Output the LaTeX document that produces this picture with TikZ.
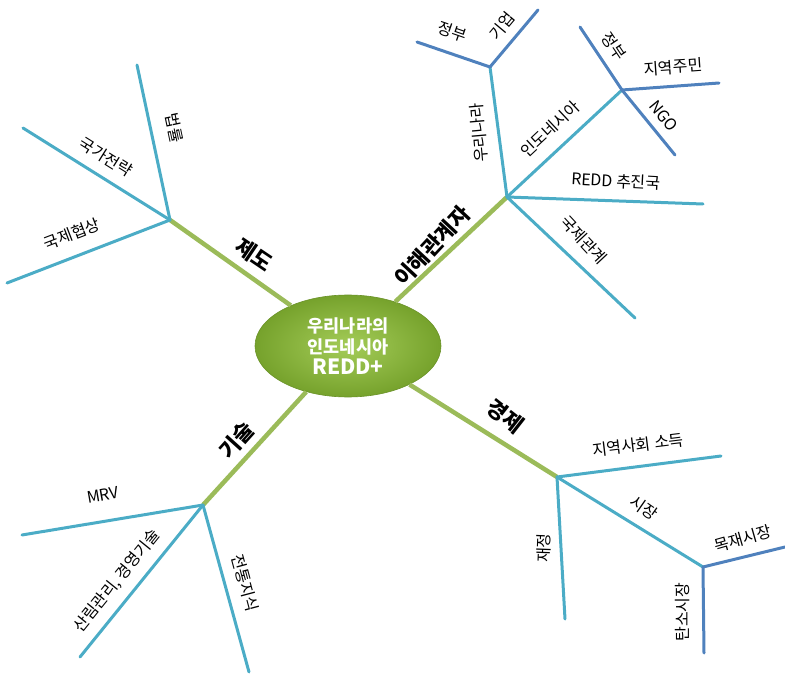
\documentclass[tikz,border=0pt]{standalone}
\usepackage{fontspec}
\setmainfont{Noto Sans CJK KR}
\usetikzlibrary{shapes.geometric}
\definecolor{grn}{HTML}{9BBB59}
\definecolor{aqua}{HTML}{4BACC6}
\definecolor{blu}{HTML}{4F81BD}
\definecolor{ballin}{HTML}{A4CC58}
\definecolor{ballout}{HTML}{76A22C}
\tikzset{
  mainline/.style={draw=grn, line width=4.5pt},
  subline/.style={draw=aqua, line width=3pt, line cap=round},
  subsubline/.style={draw=blu, line width=3pt, line cap=round},
  lbl/.style={font=\fontsize{16}{18}\selectfont, inner sep=0pt, text=black},
  mainlbl/.style={font=\fontsize{21.5}{24}\selectfont\bfseries, inner sep=0pt, text=black},
}
\begin{document}
\begin{tikzpicture}[x=1pt,y=-1pt]
\useasboundingbox (0,0) rectangle (785,679);
% hubs and ends
\coordinate (h1) at (170,220);
\coordinate (h2) at (507,197);
\coordinate (h3) at (203,505);
\coordinate (h4) at (557,477);
\coordinate (e11) at (137,65);
\coordinate (e12) at (23,128);
\coordinate (e13) at (7,283);
\coordinate (h21) at (490,67);
\coordinate (e211) at (417,42);
\coordinate (e212) at (538,10);
\coordinate (h22) at (622,90);
\coordinate (e221) at (580,27);
\coordinate (e222) at (719,83);
\coordinate (e223) at (675,155);
\coordinate (e23) at (703,204);
\coordinate (e24) at (635,318);
\coordinate (e31) at (22,535);
\coordinate (e32) at (80,657);
\coordinate (e33) at (249,672);
\coordinate (e41) at (721,456);
\coordinate (e42) at (565,619);
\coordinate (h43) at (703,567);
\coordinate (e431) at (785,547);
\coordinate (e432) at (704,653);
% centre
\node[ellipse, minimum width=186pt, minimum height=102pt, inner sep=0pt,
  draw=ballout!90!black, line width=0.6pt,
  inner color=ballin, outer color=ballout, text=white,
  align=center, font=\fontsize{17.5}{21}\selectfont\bfseries] (c) at (348,346)
  {우리나라의\\인도네시아\\{\fontsize{21}{21}\selectfont REDD+}};
% main branches
\draw[mainline] (c) -- (h1);
\draw[mainline] (c) -- (h2);
\draw[mainline] (c) -- (h3);
\draw[mainline] (c) -- (h4);
% 제도
\draw[subline] (h1) -- (e11);
\draw[subline] (h1) -- (e12);
\draw[subline] (h1) -- (e13);
% 이해관계자
\draw[subline] (h2) -- (h21);
\draw[subsubline] (h21) -- (e211);
\draw[subsubline] (h21) -- (e212);
\draw[subline] (h2) -- (h22);
\draw[subsubline] (h22) -- (e221);
\draw[subsubline] (h22) -- (e222);
\draw[subsubline] (h22) -- (e223);
\draw[subline] (h2) -- (e23);
\draw[subline] (h2) -- (e24);
% 기술
\draw[subline] (h3) -- (e31);
\draw[subline] (h3) -- (e32);
\draw[subline] (h3) -- (e33);
% 경제
\draw[subline] (h4) -- (e41);
\draw[subline] (h4) -- (e42);
\draw[subline] (h4) -- (h43);
\draw[subsubline] (h43) -- (e431);
\draw[subsubline] (h43) -- (e432);
% labels
\node[mainlbl, rotate=-34] (l1) at (254,255) {제도};
\node[mainlbl, rotate=47] (l2) at (432,246) {이해관계자};
\node[mainlbl, rotate=48] (l3) at (237,440) {기술};
\node[mainlbl, rotate=-38] (l4) at (505,416) {경제};
\node[lbl, rotate=-78] (l11) at (174,128) {법률};
\node[lbl, rotate=-32] (l12) at (106,157) {국가전략};
\node[lbl, rotate=21] (l13) at (72,234) {국제협상};
\node[lbl, rotate=95] (l21) at (479,133) {우리나라};
\node[lbl, rotate=-19] (l211) at (452,32) {정부};
\node[lbl, rotate=50] (l212) at (502,26) {기업};
\node[lbl, rotate=43] (l22) at (550,129) {인도네시아};
\node[lbl, rotate=-56] (l221) at (614,46) {정부};
\node[lbl, rotate=4] (l222) at (673,67) {지역주민};
\node[lbl, rotate=-51] (l223) at (664,116) {NGO};
\node[lbl, rotate=-3] (l23) at (616,181) {REDD 추진국};
\node[lbl, rotate=-47] (l24) at (584,240) {국제관계};
\node[lbl, rotate=10] (l31) at (103,495) {MRV};
\node[lbl, rotate=51] (l32) at (117,581) {산림관리, 경영기술};
\node[lbl, rotate=-75] (l33) at (245,583) {전통지식};
\node[lbl, rotate=7] (l41) at (638,445) {지역사회 소득};
\node[lbl, rotate=88] (l42) at (544,548) {재정};
\node[lbl, rotate=-35] (l43) at (644,508) {시장};
\node[lbl, rotate=16] (l431) at (743,539) {목재시장};
\node[lbl, rotate=90] (l432) at (683,612) {탄소시장};
\end{tikzpicture}
\end{document}
